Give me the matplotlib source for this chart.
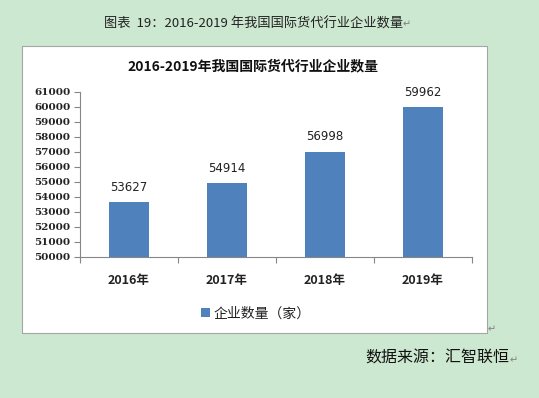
import matplotlib.pyplot as plt
from matplotlib.patches import Rectangle

# data
years = ['2016年', '2017年', '2018年', '2019年']
counts = [53627, 54914, 56998, 59962]
y_ticks = list(range(50000, 61001, 1000))

header = '图表  19：2016-2019 年我国国际货代行业企业数量'
chart_title = '2016-2019年我国国际货代行业企业数量'
legend_label = '企业数量（家）'
source = '数据来源：汇智联恒'

plt.rcParams['font.family'] = ['Noto Sans CJK SC', 'DejaVu Sans']

bg = '#cde8d0'
bar_color = '#4f81bd'
axis_gray = '#868686'

fig = plt.figure(figsize=(5.39, 3.98), dpi=100, facecolor=bg)

# white chart box (behind the axes)
box = Rectangle((0.0408, 0.1633), 0.8627, 0.7211, transform=fig.transFigure,
                facecolor='white', edgecolor='#a6a6a6', linewidth=0.8, zorder=-1)
fig.patches.append(box)

ax = fig.add_axes([0.1484, 0.3543, 0.7273, 0.4158])
ax.set_facecolor('white')
x = list(range(len(years)))
bars = ax.bar(x, counts, width=0.4, color=bar_color, zorder=2, label=legend_label)

ax.set_ylim(50000, 61000)
ax.set_xlim(-0.5, len(years) - 0.5)
ax.set_yticks(y_ticks)
ax.set_yticklabels([str(v) for v in y_ticks], fontsize=7.5, fontweight='bold',
                   family=['DejaVu Serif'], color='#222222')
ax.set_xticks(x)
ax.set_xticklabels(years, fontsize=9, fontweight='bold', color='#222222')
ax.set_xticks([i - 0.5 for i in range(len(years) + 1)], minor=True)
ax.tick_params(axis='x', which='major', length=0, pad=12)
ax.tick_params(axis='x', which='minor', length=4, color=axis_gray, width=0.8)
ax.tick_params(axis='y', length=4, color=axis_gray, width=0.8, pad=3)

for s in ['top', 'right']:
    ax.spines[s].set_visible(False)
for s in ['left', 'bottom']:
    ax.spines[s].set_color(axis_gray)
    ax.spines[s].set_linewidth(0.8)

for b, v in zip(bars, counts):
    ax.annotate(str(v), (b.get_x() + b.get_width() / 2, v), xytext=(0, 6),
                textcoords='offset points', ha='center', va='bottom',
                fontsize=8.5, color='#222222', family=['DejaVu Sans'])

# header above the box
t = fig.text(0.47, 0.94, header, ha='center', va='center', fontsize=9.5, color='#222222')
ax.annotate('↵', xy=(1, 0.1), xycoords=t, fontsize=7, color='#808080',
            family=['DejaVu Sans'], va='bottom', annotation_clip=False)

fig.text(0.47, 0.834, chart_title, ha='center', va='center', fontsize=10,
         fontweight='bold', color='#111111')

fig.legend(handles=[bars], labels=[legend_label], loc='center',
           bbox_to_anchor=(0.475, 0.213), frameon=False, fontsize=10,
           handlelength=0.6, handleheight=0.6, handletextpad=0.3,
           labelcolor='#222222')

fig.text(0.905, 0.172, '↵', fontsize=7, color='#808080', family=['DejaVu Sans'],
         va='center')

s = fig.text(0.678, 0.1, source, ha='left', va='center', fontsize=11.5, color='#111111')
ax.annotate('↵', xy=(1, 0.1), xycoords=s, fontsize=7, color='#808080',
            family=['DejaVu Sans'], va='bottom', annotation_clip=False)

fig.savefig('out.png', dpi=100, facecolor=bg)
